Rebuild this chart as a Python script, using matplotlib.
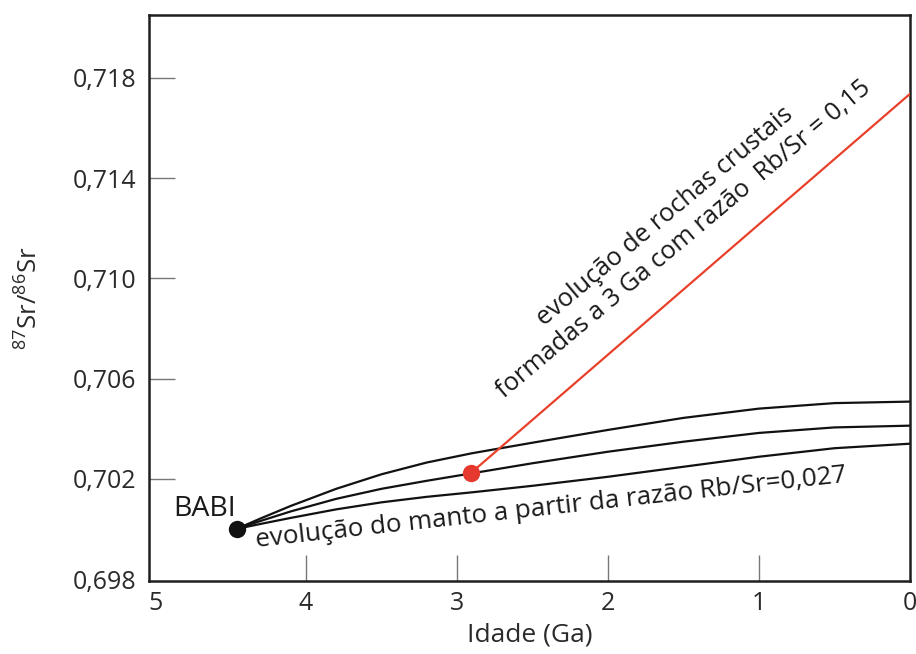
"""Sr isotope evolution: mantle reservoirs from BABI and a crustal
reservoir extracted at ~3 Ga (Rb/Sr = 0.15)."""
import matplotlib
matplotlib.use("Agg")
import matplotlib.pyplot as plt
from matplotlib.ticker import FuncFormatter

plt.rcParams["font.family"] = ["Open Sans", "DejaVu Sans"]
plt.rcParams["mathtext.fontset"] = "custom"
plt.rcParams["mathtext.rm"] = "Open Sans"

# ages in Ga
ages = [4.46, 4.3, 4.1, 3.8, 3.5, 3.2, 2.9, 2.5, 2.0, 1.5, 1.0, 0.5, 0.0]
sr_upper = [0.70000, 0.70042, 0.70092, 0.70160, 0.70218, 0.70265, 0.70302,
            0.70344, 0.70395, 0.70443, 0.70480, 0.70502, 0.70508]
sr_middle = [0.70000, 0.70032, 0.70070, 0.70120, 0.70160, 0.70192, 0.70222,
             0.70262, 0.70308, 0.70348, 0.70383, 0.70405, 0.70412]
sr_lower = [0.70000, 0.70020, 0.70044, 0.70078, 0.70106, 0.70128, 0.70146,
            0.70172, 0.70208, 0.70248, 0.70288, 0.70322, 0.70340]

babi_age, babi_sr = 4.46, 0.70000
crust_age = [2.91, 0.0]
crust_sr = [0.70222, 0.71736]

x_ticks = [5, 4, 3, 2, 1, 0]
y_ticks = [0.698, 0.702, 0.706, 0.710, 0.714, 0.718]

RED = "#e8412b"
TXT = "#2a2a2a"

fig = plt.figure(figsize=(9.16, 6.54), dpi=100)
ax = fig.add_axes([0.1627, 0.1116, 0.8307, 0.8655])

for sr in (sr_upper, sr_middle, sr_lower):
    ax.plot(ages, sr, color="#111111", lw=1.6, solid_capstyle="round",
            solid_joinstyle="round", zorder=2)

ax.plot(crust_age, crust_sr, color=RED, lw=1.6, zorder=3)
ax.plot(crust_age[0], crust_sr[0], "o", ms=12.5, color="#e5392f", mec="none", zorder=4)
ax.plot(babi_age, babi_sr, "o", ms=12.5, color="#111111", mec="none", zorder=4)

ax.text(4.88, 0.70050, "BABI", fontsize=20.5, color="#1a1a1a", ha="left", va="baseline")
ax.text(4.33, 0.69928, "evolução do manto a partir da razão Rb/Sr=0,027",
        fontsize=18.7, color="#1a1a1a", rotation=6.3, rotation_mode="anchor",
        ha="left", va="baseline")
ax.text(1.56, 0.71201, "evolução de rochas crustais\nformadas a 3 Ga com razão  Rb/Sr = 0,15",
        fontsize=18.3, color="#1a1a1a", rotation=40, rotation_mode="anchor",
        ha="center", va="center", multialignment="center", linespacing=1.2)

ax.set_xlim(5.04, 0)
ax.set_ylim(0.69792, 0.72051)
ax.set_xticks(x_ticks)
ax.set_yticks(y_ticks)
ax.xaxis.set_major_formatter(FuncFormatter(lambda v, p: f"{v:g}"))
ax.yaxis.set_major_formatter(FuncFormatter(lambda v, p: f"{v:.3f}".replace(".", ",")))
ax.tick_params(direction="in", length=19, width=1.0, color="#777777",
               labelsize=18, labelcolor=TXT, pad=7)
ax.tick_params(axis="y", pad=9)

# the end ticks sit on the frame, so their marks are not drawn
for t in (ax.xaxis.get_major_ticks()[0], ax.xaxis.get_major_ticks()[-1],
          ax.yaxis.get_major_ticks()[0]):
    t.tick1line.set_visible(False)

for s in ax.spines.values():
    s.set_linewidth(1.8)
    s.set_color("#1e1e1e")

ax.set_xlabel("Idade (Ga)", fontsize=19, color=TXT, labelpad=5)
ax.set_ylabel(r"$^{87}\mathrm{Sr}/^{86}\mathrm{Sr}$", fontsize=18.5, color=TXT, labelpad=22)

fig.savefig("out.png", dpi=100, facecolor="white")
